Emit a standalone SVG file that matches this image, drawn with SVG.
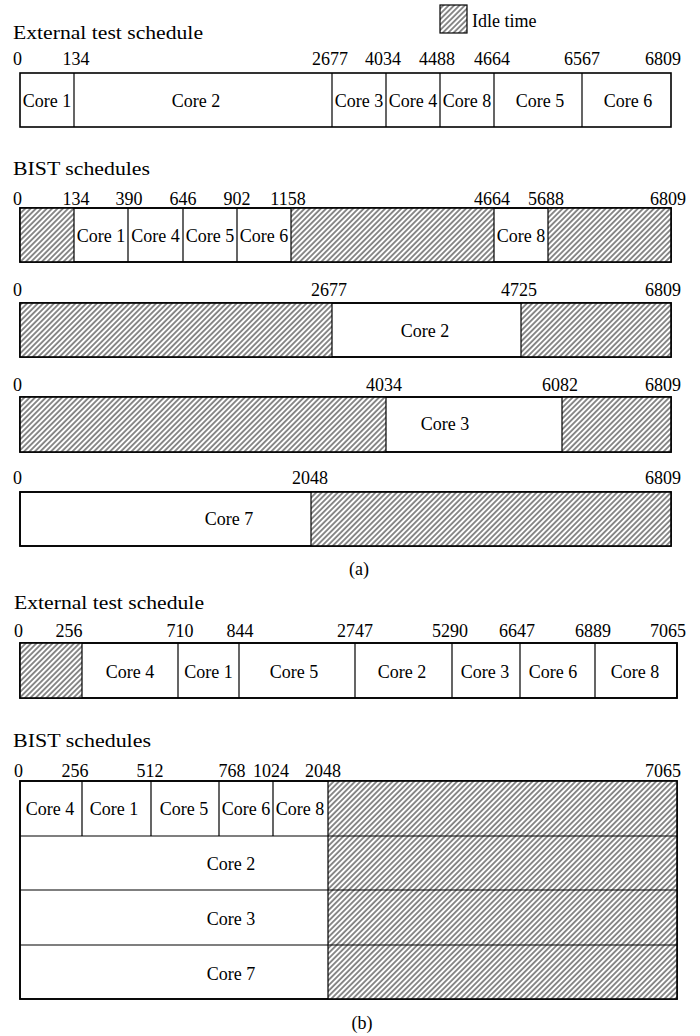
<svg xmlns="http://www.w3.org/2000/svg" width="700" height="1036" viewBox="0 0 700 1036">
<defs>
<pattern id="hatch" patternUnits="userSpaceOnUse" width="3.8" height="3.8" patternTransform="rotate(45)">
<rect width="3.8" height="3.8" fill="#fff"/>
<line x1="1.9" y1="0" x2="1.9" y2="3.8" stroke="#000" stroke-width="0.9"/>
</pattern>
</defs>
<style>
text{font-family:"Liberation Serif","Times New Roman",serif;font-size:18px;fill:#000}
.t{font-size:19px}
.m{text-anchor:middle}
.e{text-anchor:end}
.box{fill:#fff;stroke:#000;stroke-width:1.6}
.idle{fill:url(#hatch);stroke:none}
.div{stroke:#000;stroke-width:1.2;fill:none}
.frame{fill:none;stroke:#000;stroke-width:1.6}
</style>
<rect width="700" height="1036" fill="#fff"/>

<g id="legend">
<rect x="440" y="5" width="27" height="28" fill="url(#hatch)" stroke="#000" stroke-width="1.2"/>
<text x="472" y="27">Idle time</text>
</g>

<!-- (a) External test schedule -->
<g id="a-ext">
<text class="t" x="13" y="39" textLength="190" lengthAdjust="spacingAndGlyphs">External test schedule</text>
<text x="13" y="65">0</text>
<text class="m" x="76" y="65">134</text>
<text class="m" x="330" y="65">2677</text>
<text class="m" x="383" y="65">4034</text>
<text class="m" x="437" y="65">4488</text>
<text class="m" x="492" y="65">4664</text>
<text class="m" x="582" y="65">6567</text>
<text class="e" x="681" y="65">6809</text>
<rect class="box" x="20" y="73" width="651" height="54"/>
<path class="div" d="M74 73V127M332 73V127M386 73V127M440 73V127M494 73V127M582 73V127"/>
<text class="m" x="47" y="107">Core 1</text>
<text class="m" x="196" y="107">Core 2</text>
<text class="m" x="359" y="107">Core 3</text>
<text class="m" x="413" y="107">Core 4</text>
<text class="m" x="467" y="107">Core 8</text>
<text class="m" x="540" y="107">Core 5</text>
<text class="m" x="628" y="107">Core 6</text>
</g>

<!-- (a) BIST schedules -->
<g id="a-bist1">
<text class="t" x="13" y="175" textLength="137" lengthAdjust="spacingAndGlyphs">BIST schedules</text>
<text x="13" y="205">0</text>
<text class="m" x="76" y="205">134</text>
<text class="m" x="129" y="205">390</text>
<text class="m" x="183" y="205">646</text>
<text class="m" x="237" y="205">902</text>
<text class="m" x="288" y="205">1158</text>
<text class="m" x="492" y="205">4664</text>
<text class="m" x="546" y="205">5688</text>
<text class="e" x="686" y="205">6809</text>
<rect class="box" x="20" y="208" width="651" height="54"/>
<rect class="idle" x="20" y="208" width="54" height="54"/>
<rect class="idle" x="291" y="208" width="203" height="54"/>
<rect class="idle" x="548" y="208" width="123" height="54"/>
<path class="div" d="M74 208V262M128 208V262M183 208V262M237 208V262M291 208V262M494 208V262M548 208V262"/>
<rect class="frame" x="20" y="208" width="651" height="54"/>
<text class="m" x="101" y="242">Core 1</text>
<text class="m" x="155.5" y="242">Core 4</text>
<text class="m" x="210" y="242">Core 5</text>
<text class="m" x="264" y="242">Core 6</text>
<text class="m" x="521" y="242">Core 8</text>
</g>

<g id="a-bist2">
<text x="13" y="296">0</text>
<text class="m" x="329" y="296">2677</text>
<text class="m" x="519" y="296">4725</text>
<text class="e" x="681" y="296">6809</text>
<rect class="box" x="20" y="303" width="651" height="54"/>
<rect class="idle" x="20" y="303" width="312" height="54"/>
<rect class="idle" x="521" y="303" width="150" height="54"/>
<path class="div" d="M332 303V357M521 303V357"/>
<rect class="frame" x="20" y="303" width="651" height="54"/>
<text class="m" x="425" y="337">Core 2</text>
</g>

<g id="a-bist3">
<text x="13" y="391">0</text>
<text class="m" x="384" y="391">4034</text>
<text class="m" x="560" y="391">6082</text>
<text class="e" x="681" y="391">6809</text>
<rect class="box" x="20" y="397" width="651" height="55"/>
<rect class="idle" x="20" y="397" width="366" height="55"/>
<rect class="idle" x="562" y="397" width="109" height="55"/>
<path class="div" d="M386 397V452M562 397V452"/>
<rect class="frame" x="20" y="397" width="651" height="55"/>
<text class="m" x="445" y="430">Core 3</text>
</g>

<g id="a-bist4">
<text x="13" y="484">0</text>
<text class="m" x="310" y="484">2048</text>
<text class="e" x="681" y="484">6809</text>
<rect class="box" x="20" y="492" width="651" height="54"/>
<rect class="idle" x="311" y="492" width="360" height="54"/>
<path class="div" d="M311 492V546"/>
<rect class="frame" x="20" y="492" width="651" height="54"/>
<text class="m" x="229" y="525">Core 7</text>
</g>

<text class="m" x="359" y="575">(a)</text>

<!-- (b) External test schedule -->
<g id="b-ext">
<text class="t" x="14" y="609" textLength="190" lengthAdjust="spacingAndGlyphs">External test schedule</text>
<text x="14" y="637">0</text>
<text class="m" x="69" y="637">256</text>
<text class="m" x="180" y="637">710</text>
<text class="m" x="240" y="637">844</text>
<text class="m" x="355" y="637">2747</text>
<text class="m" x="450" y="637">5290</text>
<text class="m" x="517" y="637">6647</text>
<text class="m" x="593" y="637">6889</text>
<text class="m" x="668" y="637">7065</text>
<rect class="box" x="20" y="643" width="657" height="55"/>
<rect class="idle" x="20" y="643" width="62" height="55"/>
<path class="div" d="M82 643V698M178 643V698M239 643V698M355 643V698M452 643V698M520 643V698M595 643V698"/>
<rect class="frame" x="20" y="643" width="657" height="55"/>
<text class="m" x="130" y="678">Core 4</text>
<text class="m" x="208.5" y="678">Core 1</text>
<text class="m" x="294" y="678">Core 5</text>
<text class="m" x="402" y="678">Core 2</text>
<text class="m" x="485" y="678">Core 3</text>
<text class="m" x="553" y="678">Core 6</text>
<text class="m" x="635" y="678">Core 8</text>
</g>

<!-- (b) BIST schedules -->
<g id="b-bist">
<text class="t" x="13" y="747" textLength="138" lengthAdjust="spacingAndGlyphs">BIST schedules</text>
<text x="14" y="777">0</text>
<text class="m" x="75" y="777">256</text>
<text class="m" x="150" y="777">512</text>
<text class="m" x="232" y="777">768</text>
<text class="m" x="271" y="777">1024</text>
<text class="m" x="323" y="777">2048</text>
<text class="e" x="681" y="777">7065</text>
<rect class="box" x="20" y="781" width="657" height="218"/>
<rect class="idle" x="328" y="781" width="349" height="218"/>
<path class="div" d="M20 836H677M20 890H677M20 945H677M82 781V836M151 781V836M219 781V836M273 781V836M328 781V999"/>
<rect class="frame" x="20" y="781" width="657" height="218"/>
<text class="m" x="50" y="815">Core 4</text>
<text class="m" x="114" y="815">Core 1</text>
<text class="m" x="184" y="815">Core 5</text>
<text class="m" x="246" y="815">Core 6</text>
<text class="m" x="300" y="815">Core 8</text>
<text class="m" x="231" y="870">Core 2</text>
<text class="m" x="231" y="925">Core 3</text>
<text class="m" x="231" y="980">Core 7</text>
</g>

<text class="m" x="362" y="1029">(b)</text>

<g id="connectors"/>
</svg>
